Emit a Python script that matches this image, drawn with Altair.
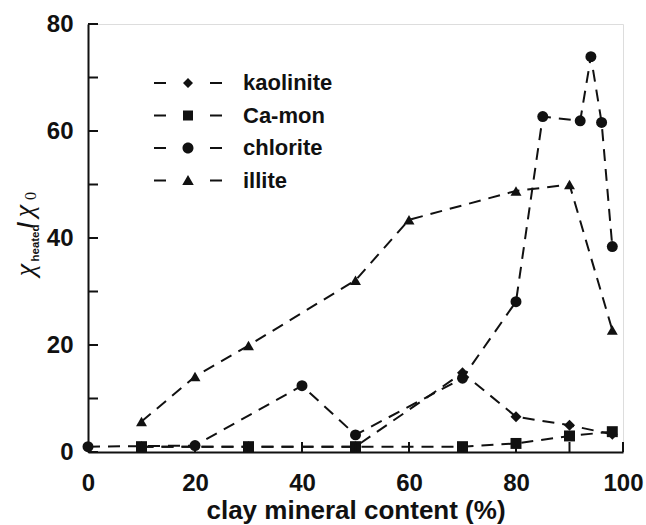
import altair as alt
import pandas as pd

# ---- data ----
series = ["kaolinite", "Ca-mon", "chlorite", "illite"]

x_kaol = [10, 30, 50, 70, 80, 90, 98]
y_kaol = [1.0, 1.0, 1.0, 14.8, 6.6, 5.0, 3.3]

x_camon = [10, 30, 50, 70, 80, 90, 98]
y_camon = [1.0, 1.0, 1.0, 1.0, 1.6, 3.0, 3.8]

x_chl = [0, 20, 40, 50, 70, 80, 85, 92, 94, 96, 98]
y_chl = [1.0, 1.2, 12.4, 3.2, 13.8, 28.1, 62.7, 61.9, 73.9, 61.6, 38.4]

x_ill = [10, 20, 30, 50, 60, 80, 90, 98]
y_ill = [5.7, 14.1, 19.9, 32.1, 43.4, 48.8, 50.0, 22.8]

x_label_values = [0, 20, 40, 60, 80, 100]
y_label_values = [0, 20, 40, 60, 80]
x_tick_values = [0, 10, 20, 30, 40, 50, 60, 70, 80, 90, 100]
y_tick_values = [0, 10, 20, 30, 40, 50, 60, 70, 80]

rows = []
for name, xs, ys in [("kaolinite", x_kaol, y_kaol), ("Ca-mon", x_camon, y_camon),
                     ("chlorite", x_chl, y_chl), ("illite", x_ill, y_ill)]:
    for xv, yv in zip(xs, ys):
        rows.append({"mineral": name, "content": xv, "ratio": yv})
df = pd.DataFrame(rows)

FONT = "Liberation Sans"
W, H = 535, 428

xscale = alt.Scale(domain=[0, 100], nice=False, zero=False)
yscale = alt.Scale(domain=[0, 80], nice=False, zero=False)

xenc = alt.X("content:Q", scale=xscale,
             axis=alt.Axis(values=x_label_values, ticks=False, tickSize=0, grid=False,
                           domainColor="#111", domainWidth=2,
                           labelFont=FONT, labelFontWeight="bold", labelFontSize=24,
                           labelColor="#111", labelPadding=19, labelFlush=False,
                           title="clay mineral content (%)", titleFont=FONT,
                           titleFontWeight="bold", titleFontSize=26, titleColor="#111",
                           titlePadding=2))
yenc = alt.Y("ratio:Q", scale=yscale,
             axis=alt.Axis(values=y_label_values, ticks=False, tickSize=0, grid=False,
                           domainColor="#111", domainWidth=2,
                           labelFont=FONT, labelFontWeight="bold", labelFontSize=24,
                           labelColor="#111", labelPadding=15, labelFlush=False,
                           title=None))

base = alt.Chart(df)

lines = base.mark_line(color="#111", strokeWidth=2, strokeDash=[12, 8]).encode(
    x=xenc, y=yenc, detail="mineral:N"
)

points = base.mark_point(filled=True, size=120, color="#111", opacity=1).encode(
    x="content:Q", y="ratio:Q",
    shape=alt.Shape("mineral:N",
                    scale=alt.Scale(domain=series,
                                    range=["diamond", "square", "circle", "triangle-up"]),
                    legend=None),
)

# legend symbols: dash, marker, dash
dashes = "M-6.8,-0.22H-4.4V0.22H-6.8Z M4.4,-0.22H6.8V0.22H4.4Z "
legend_paths = [
    dashes + "M0,-1L1,0L0,1L-1,0Z",
    dashes + "M-1,-1H1V1H-1Z",
    dashes + "M1.1,0A1.1,1.1,0,1,1,-1.1,0A1.1,1.1,0,1,1,1.1,0Z",
    dashes + "M0,-1.1L1.15,0.9H-1.15Z",
]
legend_layer = alt.Chart(pd.DataFrame({"mineral": series})).transform_filter(
    alt.datum.mineral == "__none__"
).mark_point(filled=True, size=100, color="#111", opacity=1).encode(
    x="content:Q", y="ratio:Q",
    shape=alt.Shape("mineral:N",
                    scale=alt.Scale(domain=series, range=legend_paths),
                    legend=alt.Legend(title=None, orient="none", legendX=89, legendY=48,
                                      labelFont=FONT, labelFontWeight="bold",
                                      labelFontSize=22, labelColor="#111",
                                      labelOffset=44, rowPadding=10.5, padding=0,
                                      symbolSize=100, symbolFillColor="#111",
                                      symbolStrokeWidth=0, symbolOpacity=1)),
)

one = pd.DataFrame({"k": [0]})

ytick_df = pd.DataFrame({"t": y_tick_values})
xtick_df = pd.DataFrame({"t": x_tick_values})
yticks = alt.Chart(ytick_df).mark_rule(color="#111", strokeWidth=2).encode(
    y=alt.Y("t:Q", scale=yscale), x=alt.value(0), x2=alt.value(10)
)
xticks = alt.Chart(xtick_df).mark_rule(color="#111", strokeWidth=2).encode(
    x=alt.X("t:Q", scale=xscale), y=alt.value(H), y2=alt.value(H - 10)
)


def tpiece(text, x, y, font, size, style="normal", weight="normal"):
    return alt.Chart(one).mark_text(
        text=text, angle=270, align="center", baseline="middle", font=font,
        fontSize=size, fontStyle=style, fontWeight=weight, color="#111"
    ).encode(x=alt.value(x), y=alt.value(y))


ytitle = [
    tpiece("χ", -62, 246, "Liberation Serif", 28, style="italic"),
    tpiece("heated", -52, 219, FONT, 11.5, weight="bold"),
    tpiece("/", -62, 201, FONT, 22, weight="bold"),
    tpiece("χ", -63, 187, "Liberation Serif", 28, style="italic"),
    tpiece("0", -57, 172, "Liberation Serif", 16),
]

chart = alt.layer(lines, points, legend_layer, yticks, xticks, *ytitle).resolve_scale(
    shape="independent"
).properties(
    width=W, height=H,
    padding={"left": 88, "top": 24, "right": 23, "bottom": 73},
    autosize=alt.AutoSizeParams(type="none"),
).configure_view(stroke=None).configure(background="white")

chart.save("out.html", embed_options={"renderer": "svg", "actions": False})
